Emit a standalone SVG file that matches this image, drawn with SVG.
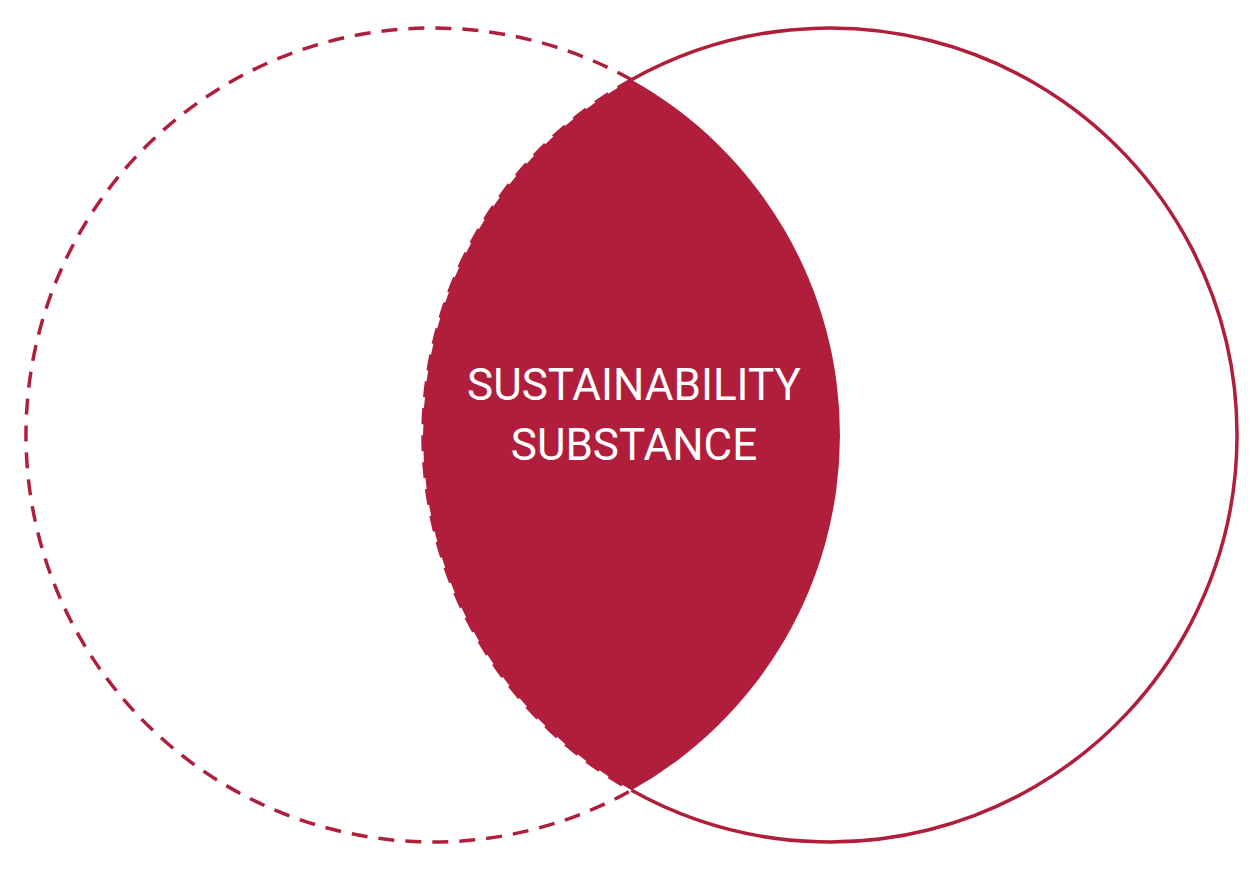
<svg xmlns="http://www.w3.org/2000/svg" width="1257" height="870" viewBox="0 0 1257 870">
<style>
.st{fill:none;stroke:#B01E3B;stroke-width:3.5}
.d{stroke-dasharray:16 11}
.t{font-family:Roboto,"Liberation Sans",sans-serif;font-size:44px;fill:#fff;text-anchor:middle}
</style>
<rect width="1257" height="870" fill="#fff"/>
<g id="lens">
<path d="M631.5,79.7 A407,407 0 0 1 631.5,790.3 A407,407 0 0 1 631.5,79.7 Z" fill="#B01E3B"/>
<path class="st d" d="M631.5,79.7 A407,407 0 0 0 631.5,790.3"/>
<text class="t" x="634" y="400">SUSTAINABILITY</text>
<text class="t" x="634" y="460">SUBSTANCE</text>
</g>
<g id="left-circle">
<path class="st d" d="M631.5,79.7 A407,407 0 1 0 631.5,790.3"/>
</g>
<g id="right-circle">
<path class="st" d="M631.5,79.7 A407,407 0 1 1 631.5,790.3"/>
</g>
</svg>
